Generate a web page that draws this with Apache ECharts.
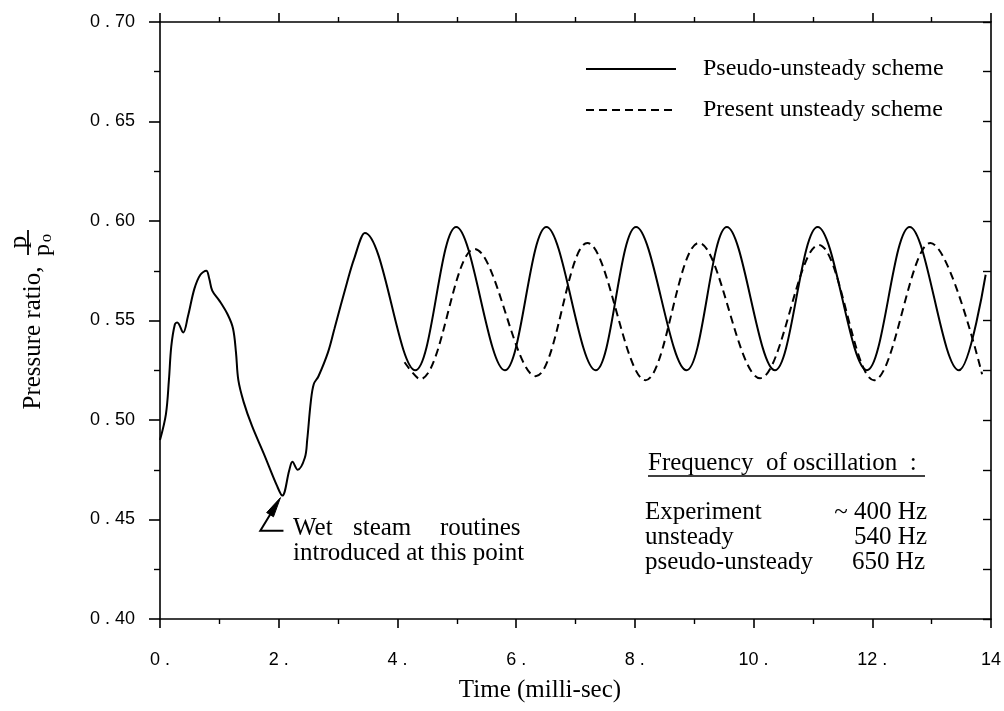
<!DOCTYPE html>
<html>
<head>
<meta charset="utf-8">
<script src="https://cdn.jsdelivr.net/npm/echarts@6/dist/echarts.min.js"></script>
<style>
html, body { margin: 0; padding: 0; background: #fff; }
#chart { width: 1004px; height: 711px; }
</style>
</head>
<body>
<div id="chart"></div>
<script>
// pseudo-unsteady scheme (solid), time in milli-sec / pressure ratio p/p0
var pseudoTime = [0, 0.10, 0.15, 0.19, 0.25, 0.29, 0.39, 0.47, 0.58, 0.68, 0.78, 0.83, 0.88, 1.00, 1.14, 1.23,
  1.28, 1.32, 1.41, 1.55, 1.75, 1.97, 2.06, 2.18, 2.23, 2.32, 2.44, 2.48, 2.54, 2.59, 2.67, 2.83, 2.94, 3.15, 3.27,
  3.45, 4.30, 4.99, 5.81, 6.51, 7.34, 8.02, 8.87, 9.55, 10.36, 11.08, 11.91, 12.63, 13.46, 13.91];
var pseudoRatio = [0.490, 0.503, 0.520, 0.537, 0.548, 0.549, 0.544, 0.552, 0.566, 0.573, 0.575, 0.571, 0.565, 0.560, 0.553, 0.546,
  0.534, 0.520, 0.509, 0.497, 0.483, 0.467, 0.462, 0.475, 0.479, 0.475, 0.481, 0.490, 0.509, 0.518, 0.522, 0.534, 0.546, 0.569, 0.581,
  0.594, 0.525, 0.597, 0.525, 0.597, 0.525, 0.597, 0.525, 0.597, 0.525, 0.597, 0.525, 0.597, 0.525, 0.573];

// present unsteady scheme (dashed)
var unsteadyTime = [4.12, 4.38, 5.30, 6.33, 7.20, 8.18, 9.08, 10.11, 11.10, 12.03, 12.98, 13.85];
var unsteadyRatio = [0.529, 0.5205, 0.586, 0.522, 0.589, 0.520, 0.589, 0.521, 0.588, 0.520, 0.589, 0.523];

var xTicks = [0, 2, 4, 6, 8, 10, 12, 14];
var xTickLabels = ['0 .', '2 .', '4 .', '6 .', '8 .', '10 .', '12 .', '14'];
var yTicks = [0.40, 0.45, 0.50, 0.55, 0.60, 0.65, 0.70];
var yTickLabels = ['0 . 40', '0 . 45', '0 . 50', '0 . 55', '0 . 60', '0 . 65', '0 . 70'];

// annotation anchor points (data coords)
var arrowTip = [2.03, 0.461];
var arrowCorner = [1.69, 0.4444];
var arrowFoot = [2.08, 0.4444];

function zip(xs, ys) {
  return xs.map(function (x, i) { return [x, ys[i]]; });
}

var SERIF = '"Liberation Serif", "Times New Roman", serif';
var SANS = '"Liberation Sans", Arial, sans-serif';
var black = '#000';

function axisCommon(extra) {
  var base = {
    type: 'value',
    axisLine: { show: true, onZero: false, lineStyle: { color: black, width: 1.6 } },
    axisTick: { show: true, length: 9, lineStyle: { color: black, width: 1.6 } },
    minorTick: { show: true, splitNumber: 2, length: 5, lineStyle: { color: black, width: 1.4 } },
    splitLine: { show: false },
    minorSplitLine: { show: false },
    axisLabel: { show: false }
  };
  return Object.assign(base, extra);
}

var chart = echarts.init(document.getElementById('chart'));

var option = {
  animation: false,
  backgroundColor: '#fff',
  grid: { left: 160, right: 9, top: 22, bottom: 92 },
  legend: {
    orient: 'vertical',
    left: 585,
    top: 57,
    padding: 0,
    itemWidth: 90,
    itemHeight: 14,
    itemGap: 17,
    itemStyle: { opacity: 0, color: 'rgba(0,0,0,0)', borderWidth: 0 },
    textStyle: { fontFamily: SERIF, fontSize: 24, color: black, padding: [0, 0, 0, 22] },
    data: ['Pseudo-unsteady scheme', 'Present unsteady scheme']
  },
  xAxis: [
    axisCommon({
      position: 'bottom', min: 0, max: 14, interval: 2,
      axisLabel: {
        show: true, margin: 32, fontFamily: SANS, fontSize: 18, color: black,
        formatter: function (v) {
          var i = xTicks.indexOf(Math.round(v));
          return i < 0 ? '' : xTickLabels[i];
        }
      }
    }),
    axisCommon({ position: 'top', min: 0, max: 14, interval: 2 })
  ],
  yAxis: [
    axisCommon({
      position: 'left', min: 0.4, max: 0.7, interval: 0.05,
      axisTick: { show: true, length: 11, lineStyle: { color: black, width: 1.6 } },
      minorTick: { show: true, splitNumber: 2, length: 6, lineStyle: { color: black, width: 1.4 } },
      axisLabel: {
        show: true, margin: 25, fontFamily: SANS, fontSize: 18, color: black,
        formatter: function (v) {
          var i = Math.round((v - 0.4) / 0.05);
          return yTickLabels[i] || '';
        }
      }
    }),
    axisCommon({
      position: 'right', min: 0.4, max: 0.7, interval: 0.025,
      axisTick: { show: true, inside: true, length: 8, lineStyle: { color: black, width: 1.4 } },
      minorTick: { show: false }
    })
  ],
  series: [
    {
      name: 'Pseudo-unsteady scheme',
      type: 'line',
      xAxisIndex: 0, yAxisIndex: 0,
      data: zip(pseudoTime, pseudoRatio),
      smooth: 0.36,
      symbol: 'none',
      lineStyle: { color: black, width: 2 },
      itemStyle: { color: black }
    },
    {
      name: 'Present unsteady scheme',
      type: 'line',
      xAxisIndex: 0, yAxisIndex: 0,
      data: zip(unsteadyTime, unsteadyRatio),
      smooth: 0.36,
      symbol: 'none',
      lineStyle: { color: black, width: 2, type: [8, 5] },
      itemStyle: { color: black }
    }
  ]
};
chart.setOption(option);

// texts and the arrow
function txt(x, y, s, size, align, extra) {
  return Object.assign({
    type: 'text', x: x, y: y, silent: true,
    style: { text: s, font: size + 'px ' + SERIF, fill: black, textAlign: align || 'left', textVerticalAlign: 'middle' }
  }, extra || {});
}

var finder = { xAxisIndex: 0, yAxisIndex: 0 };
var tip = chart.convertToPixel(finder, arrowTip);
var corner = chart.convertToPixel(finder, arrowCorner);
var foot = chart.convertToPixel(finder, arrowFoot);
var dx = tip[0] - corner[0], dy = tip[1] - corner[1];
var len = Math.sqrt(dx * dx + dy * dy);
var ux = dx / len, uy = dy / len, nx = -uy, ny = ux;
var headLen = 20, headW = 4;
var bx = tip[0] - ux * headLen, by = tip[1] - uy * headLen;

var graphics = [
  txt(540, 690, 'Time (milli-sec)', 25, 'center'),
  txt(33, 338, 'Pressure ratio,', 25, 'center', { rotation: Math.PI / 2 }),
  txt(19, 242, 'p', 25, 'center', { rotation: Math.PI / 2 }),
  { type: 'line', silent: true, shape: { x1: 28, y1: 230, x2: 28, y2: 255 }, style: { stroke: black, lineWidth: 1.8 } },
  txt(43, 250, 'p', 24, 'center', { rotation: Math.PI / 2 }),
  txt(47, 238, 'o', 17, 'center', { rotation: Math.PI / 2 }),

  txt(648, 463, 'Frequency  of oscillation  :', 25),
  { type: 'line', silent: true, shape: { x1: 648, y1: 476, x2: 925, y2: 476 }, style: { stroke: black, lineWidth: 1.5 } },
  txt(645, 512, 'Experiment', 25),
  txt(927, 512, '~ 400 Hz', 25, 'right'),
  txt(645, 537, 'unsteady', 25),
  txt(927, 537, '540 Hz', 25, 'right'),
  txt(645, 562, 'pseudo-unsteady', 25),
  txt(925, 562, '650 Hz', 25, 'right'),

  txt(293, 528, 'Wet', 25),
  txt(353, 528, 'steam', 25),
  txt(440, 528, 'routines', 25),
  txt(293, 553, 'introduced at this point', 25),

  {
    type: 'polyline', silent: true,
    shape: { points: [[foot[0], foot[1]], [corner[0], corner[1]], [bx + ux * 4, by + uy * 4]] },
    style: { stroke: black, lineWidth: 2, fill: null }
  },
  {
    type: 'polygon', silent: true,
    shape: { points: [[tip[0], tip[1]], [bx + nx * headW, by + ny * headW], [bx - nx * headW, by - ny * headW]] },
    style: { fill: black, stroke: black, lineWidth: 1 }
  }
];

chart.setOption({ graphic: graphics });
</script>
</body>
</html>
